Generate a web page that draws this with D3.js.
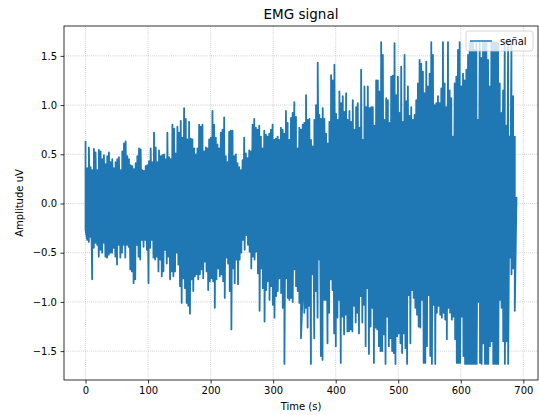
<!DOCTYPE html>
<html>
<head>
<meta charset="utf-8">
<script src="https://cdn.jsdelivr.net/npm/d3@7"></script>
<style>
  html, body { margin: 0; padding: 0; background: #fff; }
  svg { display: block; font-family: "DejaVu Sans", sans-serif; }
</style>
</head>
<body>
<div id="chart"></div>
<script>
// ---- data ----
const title = "EMG signal";
const xLabel = "Time (s)";
const yLabel = "Amplitude uV";
const seriesName = "señal";
const duration = 689; // seconds covered by the recording

// positive excursions of the signal, in time order
const peakPos = [
  0.636,0.36,0.57,0.37,0.34,0.555,0.52,0.34,0.545,0.53,
  0.45,0.49,0.40,0.48,0.52,0.42,0.45,0.36,0.42,0.45,
  0.47,0.34,0.53,0.61,0.63,0.48,0.45,0.39,0.38,0.35,
  0.41,0.48,0.56,0.55,0.34,0.33,0.38,0.39,0.43,0.56,
  0.42,0.72,0.57,0.42,0.54,0.48,0.49,0.50,0.45,0.72,
  0.47,0.45,0.80,0.76,0.51,0.78,0.72,0.84,0.67,0.97,
  0.86,0.65,0.83,0.66,0.65,0.56,0.50,0.56,0.80,0.78,
  0.80,0.53,0.57,0.56,0.65,0.67,0.94,0.80,0.67,0.60,
  0.56,0.72,0.75,
  0.876,0.48,0.42,0.73,0.74,0.74,0.48,0.50,0.41,0.37,
  0.34,0.44,0.67,0.51,0.46,0.54,0.53,0.80,0.86,0.77,
  0.75,0.79,0.68,0.56,0.74,0.70,0.68,0.71,0.75,0.80,
  0.645,0.66,0.68,0.645,0.77,0.75,0.71,0.94,0.82,0.645,
  0.87,0.92,1.03,0.88,0.56,0.77,0.75,0.80,0.82,1.10,
  0.85,0.86,0.645,0.58,0.85,1.00,1.43,0.90,0.86,0.97,
  0.86,0.71,0.61,0.83,1.305,1.25,1.41,0.91,0.85,1.14,
  1.02,1.09,0.93,1.12,0.85,0.94,0.83,1.05,0.75,0.98,
  1.02,0.77,1.36,0.645,1.19,0.98,1.19,0.97,0.98,0.98,
  0.79,1.25,
  1.25,1.14,1.64,1.51,0.85,1.07,1.05,0.82,1.29,1.30,
  1.63,1.10,1.29,0.92,1.39,0.83,1.51,1.04,1.19,0.89,
  0.98,0.85,0.90,1.05,1.22,1.46,1.42,1.34,1.12,1.44,
  1.19,1.32,1.64,1.51,1.00,1.02,1.09,1.02,1.17,1.64,
  1.22,0.98,1.64,1.15,1.07,0.68,1.22,1.29,1.56,1.64,
  1.19,1.32,1.25,1.36,1.51,1.64,1.64,1.64,1.56,1.63,
  0.85,1.64,1.48,1.64,1.63,1.64,1.46,1.19,1.64,1.64,
  1.64,1.64,1.63,1.22,0.92,1.15,1.64,0.79,1.64,0.68,
  1.64,1.09,0.68,
  0.06
];

// negative excursions of the signal, in time order
const peakNeg = [
  -0.27,-0.37,-0.39,-0.34,-0.77,-0.45,-0.40,-0.42,-0.54,-0.47,
  -0.50,-0.40,-0.54,-0.55,-0.52,-0.50,-0.50,-0.45,-0.54,-0.62,
  -0.42,-0.55,-0.50,-0.42,-0.55,-0.42,-0.44,-0.67,-0.69,-0.81,
  -0.77,-0.42,-0.54,-0.57,-0.37,-0.44,-0.37,-0.47,-0.81,-0.45,
  -0.37,-0.55,-0.57,-0.54,-0.69,-0.57,-0.74,-0.69,-0.47,-0.61,
  -0.54,-0.77,-0.69,-0.74,-0.69,-0.50,-0.62,-0.84,-1.01,-0.76,
  -0.86,-1.01,-1.04,-1.12,-0.77,-0.89,-0.74,-0.72,-0.77,-0.72,
  -0.67,-0.76,-0.59,-0.69,-0.88,-0.79,-0.76,-0.79,-1.06,-0.77,
  -0.66,-0.74,-0.72,-0.79,-0.96,-0.55,-0.61,-0.89,
  -1.28,-0.66,-0.81,-0.57,-0.82,-0.57,-0.50,-0.37,-0.47,-0.32,
  -0.42,-0.49,-0.66,-0.54,-0.57,-0.49,-0.71,-1.09,-0.66,-0.86,
  -1.20,-0.88,-0.79,-0.98,-0.84,-1.03,-1.16,-0.94,-0.89,-0.76,
  -0.91,-1.06,-1.63,-0.76,-0.96,-0.98,-0.96,-1.00,-0.67,-0.84,
  -0.89,-1.01,-1.37,-0.91,-1.11,-1.06,-1.26,-1.04,-1.63,-0.72,
  -1.37,-0.89,-1.16,-0.57,-1.55,-1.59,-0.98,-0.98,-1.42,-1.11,
  -0.77,-0.88,-1.32,-1.45,-1.16,-0.98,-1.62,-1.15,-1.33,-1.13,
  -1.30,-1.30,-1.28,-1.30,-1.04,-1.21,-1.11,-1.32,-0.94,-1.21,
  -1.03,-1.45,-0.86,-1.53,-1.25,-1.06,-1.62,-1.26,-1.28,-1.45,
  -1.50,-1.50,-1.33,-1.63,-1.15,-1.45,-1.37,-1.50,-1.52,-1.63,
  -1.35,-1.32,-1.42,-1.52,-1.32,-1.47,-1.63,-0.93,-1.42,-0.88,
  -0.96,-1.06,-1.13,-1.25,-1.26,-0.98,-1.62,-1.62,-1.45,-0.93,
  -1.55,-1.63,-1.03,-1.63,-1.11,-1.04,-1.13,-1.16,-1.11,-1.18,
  -1.38,-1.06,-1.11,-1.18,-1.15,-1.38,-1.62,-1.62,-1.62,-1.15,
  -1.55,-1.63,-1.63,-1.63,-1.63,-1.63,-1.63,-1.63,-1.63,-1.00,
  -1.62,-1.63,-1.42,-1.63,-1.63,-1.63,-1.45,-1.40,-1.63,-1.63,
  -1.63,-1.63,-0.98,-1.06,-1.40,-1.63,-1.40,-1.63,-0.55,-0.72,
  -0.66,-1.09,
  -0.03
];

const xTicks = [0, 100, 200, 300, 400, 500, 600, 700];
const yTicks = [-1.5, -1.0, -0.5, 0.0, 0.5, 1.0, 1.5];

// ---- build the signal: interleave positive and negative excursions by time ----
const signal = [];
peakPos.forEach((v, i) => signal.push({ t: i * duration / (peakPos.length - 1), v, k: 0 }));
peakNeg.forEach((v, i) => signal.push({ t: i * duration / (peakNeg.length - 1), v, k: 1 }));
signal.sort((a, b) => a.t - b.t || a.k - b.k);

// ---- layout ----
const W = 539, H = 415;
const m = { left: 64, top: 26, right: 1, bottom: 35 };
const iw = W - m.left - m.right, ih = H - m.top - m.bottom;

const tExt = d3.extent(signal, d => d.t);
const vExt = d3.extent(signal, d => d.v);
const tPad = (tExt[1] - tExt[0]) * 0.05;
const vPad = (vExt[1] - vExt[0]) * 0.05;

const x = d3.scaleLinear().domain([tExt[0] - tPad, tExt[1] + tPad]).range([m.left, m.left + iw]);
const y = d3.scaleLinear().domain([vExt[0] - vPad, vExt[1] + vPad]).range([m.top + ih, m.top]);

const svg = d3.select("#chart").append("svg").attr("width", W).attr("height", H);
svg.append("rect").attr("width", W).attr("height", H).attr("fill", "#fff");

// grid (below the line)
const grid = svg.append("g").attr("stroke", "#b0b0b0").attr("stroke-width", 0.8)
  .attr("stroke-dasharray", "0.8,1.3").attr("opacity", 0.9);
xTicks.forEach(t => grid.append("line").attr("x1", x(t)).attr("x2", x(t)).attr("y1", m.top).attr("y2", m.top + ih));
yTicks.forEach(t => grid.append("line").attr("x1", m.left).attr("x2", m.left + iw).attr("y1", y(t)).attr("y2", y(t)));

// clip
svg.append("clipPath").attr("id", "clip").append("rect")
  .attr("x", m.left).attr("y", m.top).attr("width", iw).attr("height", ih);

const line = d3.line().x(d => x(d.t)).y(d => y(d.v));
svg.append("path").datum(signal)
  .attr("clip-path", "url(#clip)")
  .attr("d", line)
  .attr("fill", "none")
  .attr("stroke", "#1f77b4")
  .attr("stroke-width", 1.8)
  .attr("stroke-linejoin", "round");

// axes
const fmtY = d3.format(".1f");
const xAxis = d3.axisBottom(x).tickValues(xTicks).tickSize(3.5).tickPadding(3.5).tickFormat(d3.format("d"));
const yAxis = d3.axisLeft(y).tickValues(yTicks).tickSize(3.5).tickPadding(3.5).tickFormat(fmtY);

const gx = svg.append("g").attr("transform", `translate(0,${m.top + ih})`).call(xAxis);
const gy = svg.append("g").attr("transform", `translate(${m.left},0)`).call(yAxis);
[gx, gy].forEach(g => {
  g.select(".domain").remove();
  g.selectAll(".tick line").attr("stroke", "#000").attr("stroke-width", 0.8);
  g.selectAll(".tick text").attr("font-size", 10).attr("fill", "#000").attr("font-family", "DejaVu Sans");
});

// frame
svg.append("rect").attr("x", m.left).attr("y", m.top).attr("width", iw).attr("height", ih)
  .attr("fill", "none").attr("stroke", "#000").attr("stroke-width", 0.8);

// title and labels
svg.append("text").attr("x", m.left + iw / 2).attr("y", m.top - 7).attr("text-anchor", "middle")
  .attr("font-size", 13.5).attr("fill", "#000").text(title);
svg.append("text").attr("x", m.left + iw / 2).attr("y", H - 5).attr("text-anchor", "middle")
  .attr("font-size", 10).attr("fill", "#000").text(xLabel);
svg.append("text").attr("transform", `translate(23,${m.top + ih / 2}) rotate(-90)`).attr("text-anchor", "middle")
  .attr("font-size", 10).attr("fill", "#000").text(yLabel);

// legend (upper right)
const lw = 67, lh = 20;
const lx = m.left + iw - 5 - lw, ly = m.top + 5;
const lg = svg.append("g");
lg.append("rect").attr("x", lx).attr("y", ly).attr("width", lw).attr("height", lh).attr("rx", 2.5)
  .attr("fill", "#fff").attr("fill-opacity", 0.8).attr("stroke", "#cccccc").attr("stroke-width", 0.8);
lg.append("line").attr("x1", lx + 4).attr("x2", lx + 26).attr("y1", ly + lh / 2).attr("y2", ly + lh / 2)
  .attr("stroke", "#1f77b4").attr("stroke-width", 1.5);
lg.append("text").attr("x", lx + 34).attr("y", ly + lh / 2 + 3.5).attr("font-size", 10).attr("fill", "#000").text(seriesName);
</script>
</body>
</html>
